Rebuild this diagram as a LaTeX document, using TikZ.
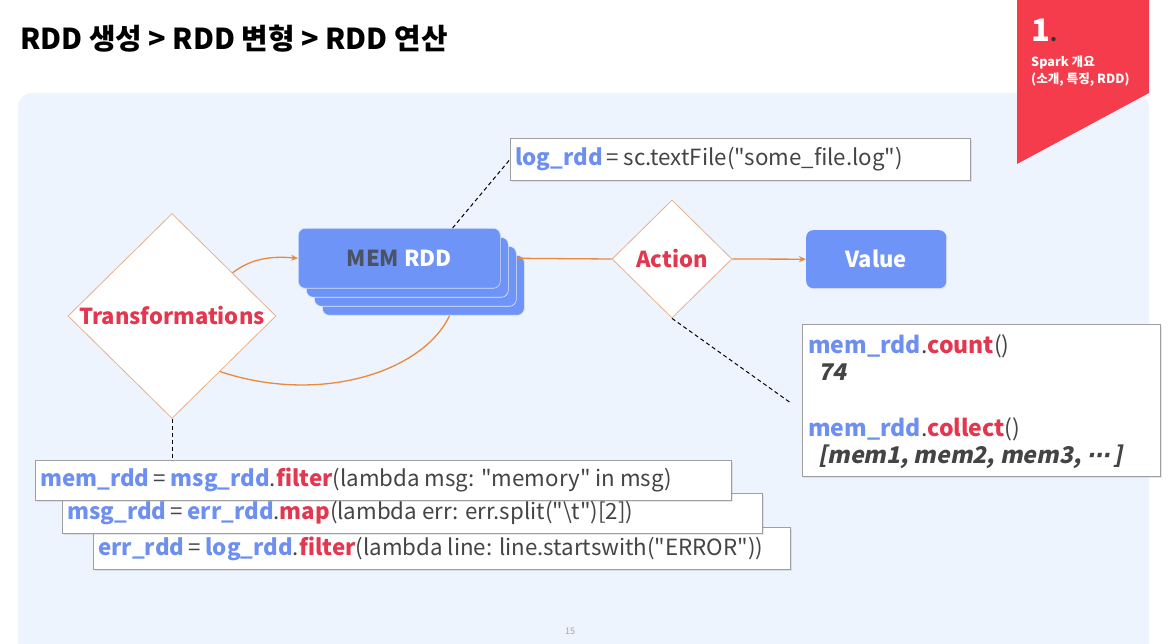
\documentclass[tikz,border=0pt]{standalone}
\usepackage{fontspec}
\setmainfont{Noto Sans CJK KR}[Ligatures=TeXOff]
\newfontfamily\slfam{Noto Sans CJK KR}[FakeSlant=0.2, Ligatures=TeXOff]
\newfontfamily\djv{DejaVu Sans}[FakeSlant=0.2]
\usetikzlibrary{shapes.geometric,calc,shadows,arrows.meta}
\definecolor{panel}{HTML}{EEF4FD}
\definecolor{bannerred}{HTML}{F43C4C}
\definecolor{cblue}{HTML}{6D8FF0}
\definecolor{cfill}{HTML}{6E94F8}
\definecolor{cred}{HTML}{E2374F}
\definecolor{cgray}{HTML}{444444}
\definecolor{corange}{HTML}{E8893C}
\definecolor{cborder}{HTML}{E9B08A}
\definecolor{cdark}{HTML}{4A5263}
\newcommand\cB[1]{\textcolor{cblue}{\bfseries #1}}
\newcommand\cR[1]{\textcolor{cred}{\bfseries #1}}
\newcommand\cG[1]{\textcolor{cgray}{#1}}
\tikzset{
  codebox/.style={draw=gray!75, fill=white, line width=0.8pt, anchor=north west, inner sep=0pt,
    drop shadow={opacity=0.18, shadow xshift=1.5pt, shadow yshift=-1.5pt}},
  codetext/.style={anchor=west, inner sep=0pt, font=\fontsize{22.3}{26}\selectfont},
  bluebox/.style={fill=cfill, rounded corners=7pt, inner sep=0pt, anchor=north west},
  layer/.style={fill=cfill, draw=white!80!cfill, line width=0.6pt, rounded corners=7pt, inner sep=0pt, anchor=north west},
  decision/.style={diamond, draw=cborder, fill=white, line width=0.8pt, inner sep=0pt, aspect=1},
  dtext/.style={font=\fontsize{22}{26}\selectfont\bfseries, inner sep=0pt},
  flow/.style={draw=corange, line width=1.3pt},
  note/.style={draw=black, line width=1pt, dash pattern=on 4pt off 3pt},
}
\begin{document}
\begin{tikzpicture}[x=1pt,y=-1pt]
\useasboundingbox (0,0) rectangle (1173,644);
\fill[white] (0,0) rectangle (1173,644);
% panel
\fill[panel, rounded corners=14pt] (18,93) -- (1149,93) -- (1149,660) -- (18,660) -- cycle;
\fill[white] (0,644) rectangle (1173,670);
% banner
\fill[bannerred] (1017,0) -- (1149,0) -- (1149,93) -- (1017,164) -- cycle;
\node[anchor=base west, inner sep=0pt, text=white, font=\fontsize{31}{31}\selectfont\bfseries] (num) at (1031,42) {1\textcolor{black!80}{\fontsize{20}{20}\selectfont.}};
\node[anchor=base west, inner sep=0pt, text=white, font=\fontsize{12.6}{14}\selectfont\bfseries] (sp1) at (1031,67) {Spark 개요};
\node[anchor=base west, inner sep=0pt, text=white, font=\fontsize{12.6}{14}\selectfont\bfseries] (sp2) at (1031,84) {(소개, 특징, RDD)};
% title
\node[anchor=base west, inner sep=0pt, font=\fontsize{28.8}{32}\selectfont\bfseries] (title) at (20,50) {RDD 생성 > RDD 변형 > RDD 연산};

% MEM RDD stack
\node[layer, minimum width=202pt, minimum height=60pt] (m3) at (322,255) {};
\node[layer, minimum width=202pt, minimum height=60pt] (m2) at (314,246) {};
\node[layer, minimum width=202pt, minimum height=60pt] (m1) at (306,237) {};
\node[bluebox, minimum width=202pt, minimum height=60pt, draw=white!70!cfill, line width=0.6pt,
  drop shadow={opacity=0.15, shadow xshift=1pt, shadow yshift=-1pt}] (M) at (298,228) {};
\node[dtext] (Mt) at (M.center) {\textcolor{cdark}{MEM} \textcolor{white}{RDD}};

% Value
\node[bluebox, minimum width=140pt, minimum height=58pt, drop shadow={opacity=0.15, shadow xshift=1pt, shadow yshift=-1pt}] (V) at (806,230) {};
\node[dtext, text=white] (Vt) at (V.center) {Value};

% diamonds
\node[decision, minimum width=208pt, minimum height=205pt] (T) at (172,316) {};
\node[dtext, text=cred] (Tt) at (T.center) {Transformations};
\node[decision, minimum width=120pt, minimum height=118pt] (A) at (672,259) {};
\node[dtext, text=cred] (At) at (A.center) {Action};

% log box
\node[codebox, minimum width=460pt, minimum height=42pt] (L) at (510,138) {};
\node[codetext] (Lt) at ([xshift=5pt]L.west) {\cB{log\_rdd}\cG{\,= sc.textFile("some\_file.log")}};

% result box
\node[codebox, minimum width=358pt, minimum height=152pt] (R) at (802,324) {};
\node[anchor=base west, inner sep=0pt, font=\fontsize{23}{26}\selectfont] (r1) at (808,353) {\cB{mem\_rdd}\cG{.}\cR{count}\cG{()}};
\node[anchor=base west, inner sep=0pt, font=\fontsize{23}{26}\selectfont\slfam\bfseries, text=cgray] (r2) at (818,381) {74};
\node[anchor=base west, inner sep=0pt, font=\fontsize{23}{26}\selectfont] (r3) at (808,436) {\cB{mem\_rdd}\cG{.}\cR{collect}\cG{()}};
\node[anchor=base west, inner sep=0pt, font=\fontsize{23}{26}\selectfont\slfam\bfseries, text=cgray] (r4) at (818,463) {[mem1, mem2, mem3, {\djv\bfseries ⋯}\,]};

% code boxes
\node[codebox, minimum width=697pt, minimum height=42pt] (C3) at (93,527) {};
\node[codebox, minimum width=700pt, minimum height=40pt] (C2) at (62,493) {};
\node[codebox, minimum width=696pt, minimum height=40pt] (C1) at (35,460) {};
\node[codetext] (C1t) at ([xshift=5pt]C1.west) {\cB{mem\_rdd}\cG{\,= }\cB{msg\_rdd}\cG{.}\cR{filter}\cG{(lambda msg: "memory" in msg)}};
\node[codetext] (C2t) at ([xshift=5pt]C2.west) {\cB{msg\_rdd}\cG{\,= }\cB{err\_rdd}\cG{.}\cR{map}\cG{(lambda err: err.split("\textbackslash t")[2])}};
\node[codetext] (C3t) at ([xshift=5pt]C3.west) {\cB{err\_rdd}\cG{\,= }\cB{log\_rdd}\cG{.}\cR{filter}\cG{(lambda line: line.startswith("ERROR"))}};

% connectors
\coordinate (tUp) at ($(T.north)!0.58!(T.east)$);
\coordinate (tLo) at ($(T.east)!0.54!(T.south)$);
\draw[flow, -{Stealth[length=7pt,width=6pt]}] (tUp) .. controls (252,258) and (272,256) .. (M.west);
\draw[flow] ([xshift=-75pt]m3.south east) .. controls (423,372) and (320,405) .. (tLo);
\draw[flow] (m2.east |- M.east) -- (A.west);
\draw[flow, -{Stealth[length=7pt,width=6pt]}] (A.east) -- (V.west);
\draw[note] ([xshift=-48pt]M.north east) -- (L.west);
\coordinate (rEnd) at ([xshift=-12pt,yshift=-2pt]R.west);
\draw[note] (A.south) -- (rEnd);
\draw[note] (T.south) -- (C1.north -| T.south);

% page number
\node[font=\fontsize{9}{10}\selectfont, text=gray!70, inner sep=0pt] (pg) at (570,631) {15};
\end{tikzpicture}
\end{document}
